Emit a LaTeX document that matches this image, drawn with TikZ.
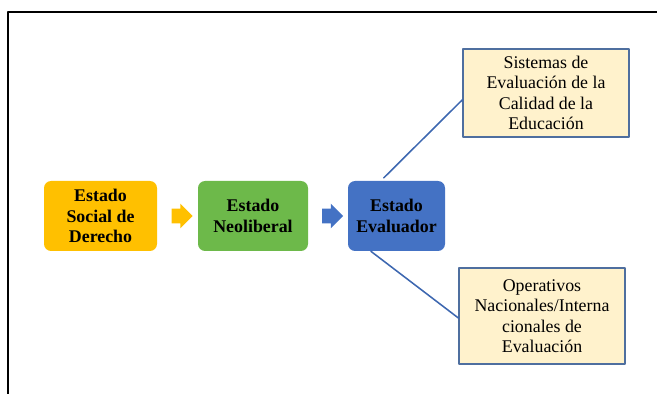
\documentclass[tikz,border=0pt]{standalone}
\usepackage{fontspec}
\setmainfont{Liberation Serif}
\usetikzlibrary{arrows.meta,positioning,shapes.arrows}
\definecolor{estgold}{HTML}{FFC000}
\definecolor{estgreen}{HTML}{6DB94A}
\definecolor{estblue}{HTML}{4472C4}
\definecolor{notefill}{HTML}{FFF2CC}
\definecolor{noteline}{HTML}{4F6F9F}
\tikzset{
  every picture/.append style={line cap=round,line join=round},
  estado box/.style={rounded corners=5pt,minimum height=1.75cm,align=center,
    font=\fontsize{12.7}{14.5}\selectfont\bfseries,inner sep=0pt},
  estado note/.style={draw=noteline,fill=notefill,line width=0.9pt,align=center,
    minimum width=4.15cm,font=\fontsize{12.7}{14.5}\selectfont,inner sep=0pt},
  estado step/.style={single arrow,single arrow head extend=0.125cm,
    minimum height=0.53cm,inner xsep=0pt,inner ysep=0.175cm},
  estado link/.style={estblue!90!black,line width=1.1pt}
}
\begin{document}
\begin{tikzpicture}
  \useasboundingbox (0,0) rectangle (16.425,-9.85);
  % frame
  \draw[line width=0.8pt] (16.425,-0.3) -- (0.2,-0.3) -- (0.2,-9.85);
  % main row
  \node[estado box,fill=estgold,minimum width=2.825cm] (ssd) at (2.5125,-5.4)
    {Estado\\Social de\\Derecho};
  \node[estado step,fill=estgold] (arr1) at (4.4625,-5.4) {};
  \node[estado box,fill=estgreen,minimum width=2.75cm] (neo) at (6.325,-5.4)
    {Estado\\Neoliberal};
  \node[estado step,fill=estblue] (arr2) at (8.225,-5.4) {};
  \node[estado box,fill=estblue,minimum width=2.425cm] (ev) at (9.9125,-5.4)
    {Estado\\Evaluador};
  % notes on the right
  \node[estado note,minimum height=2.2cm] (sist) at (13.65,-2.325)
    {Sistemas de\\Evaluación de la\\Calidad de la\\Educación};
  \node[estado note,minimum height=2.4cm] (oper) at (13.55,-7.9)
    {Operativos\\Nacionales/Interna\\cionales de\\Evaluación};
  \draw[estado link] ([shift={(-0.05,0.07)}]ev.107) -- ([yshift=-0.17cm]sist.west);
  \draw[estado link] (ev.234) -- ([yshift=-0.05cm]oper.west);
\end{tikzpicture}
\end{document}
